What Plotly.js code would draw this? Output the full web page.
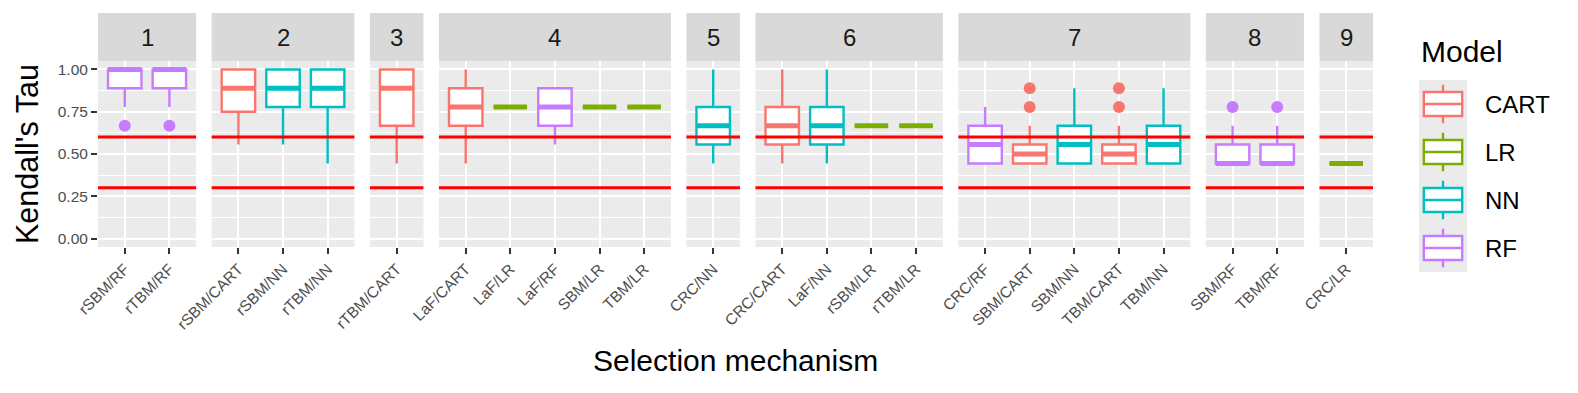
<!DOCTYPE html>
<html>
<head>
<meta charset="utf-8">
<script src="https://cdn.plot.ly/plotly-3.0.1.min.js"></script>
<style>
  html, body { margin: 0; padding: 0; background: #ffffff; }
  #chart { width: 1578px; height: 393px; }
</style>
</head>
<body>
<div id="chart"></div>
<script>
/* Kendall's Tau per selection mechanism, faceted by group (boxplots) */

// ---- data ----
const facets = [1, 1, 2, 2, 2, 3, 4, 4, 4, 4, 4, 5, 6, 6, 6, 6, 7, 7, 7, 7, 7, 8, 8, 9];
const mechanisms = [
  "rSBM/RF", "rTBM/RF",
  "rSBM/CART", "rSBM/NN", "rTBM/NN",
  "rTBM/CART",
  "LaF/CART", "LaF/LR", "LaF/RF", "SBM/LR", "TBM/LR",
  "CRC/NN",
  "CRC/CART", "LaF/NN", "rSBM/LR", "rTBM/LR",
  "CRC/RF", "SBM/CART", "SBM/NN", "TBM/CART", "TBM/NN",
  "SBM/RF", "TBM/RF",
  "CRC/LR"
];
const model = [
  "RF", "RF",
  "CART", "NN", "NN",
  "CART",
  "CART", "LR", "RF", "LR", "LR",
  "NN",
  "CART", "NN", "LR", "LR",
  "RF", "CART", "NN", "CART", "NN",
  "RF", "RF",
  "LR"
];
const lowerWhisker = [0.778, 0.778, 0.556, 0.556, 0.444, 0.444, 0.444, 0.778, 0.556, 0.778, 0.778, 0.444,
                      0.444, 0.444, 0.667, 0.667, 0.444, 0.444, 0.444, 0.444, 0.444, 0.444, 0.444, 0.444];
const q1 =           [0.889, 0.889, 0.750, 0.778, 0.778, 0.667, 0.667, 0.778, 0.667, 0.778, 0.778, 0.556,
                      0.556, 0.556, 0.667, 0.667, 0.444, 0.444, 0.444, 0.444, 0.444, 0.444, 0.444, 0.444];
const median =       [1.000, 1.000, 0.889, 0.889, 0.889, 0.889, 0.778, 0.778, 0.778, 0.778, 0.778, 0.667,
                      0.667, 0.667, 0.667, 0.667, 0.556, 0.500, 0.556, 0.500, 0.556, 0.444, 0.444, 0.444];
const q3 =           [1.000, 1.000, 1.000, 1.000, 1.000, 1.000, 0.889, 0.778, 0.889, 0.778, 0.778, 0.778,
                      0.778, 0.778, 0.667, 0.667, 0.667, 0.556, 0.667, 0.556, 0.667, 0.556, 0.556, 0.444];
const upperWhisker = [1.000, 1.000, 1.000, 1.000, 1.000, 1.000, 1.000, 0.778, 0.889, 0.778, 0.778, 1.000,
                      1.000, 1.000, 0.667, 0.667, 0.778, 0.667, 0.889, 0.667, 0.889, 0.667, 0.667, 0.444];
const outliers = [[0.667], [0.667], [], [], [], [], [], [], [], [], [], [],
                  [], [], [], [], [], [0.778, 0.889], [], [0.778, 0.889], [], [0.778], [0.778], []];

const models = ["CART", "LR", "NN", "RF"];
const modelColors = { CART: "#F8766D", LR: "#7CAE00", NN: "#00BFC4", RF: "#C77CFF" };
const thresholds = [0.3, 0.6];
const yTicks = [0, 0.25, 0.5, 0.75, 1];
const yMinor = [0.125, 0.375, 0.625, 0.875];

// ---- geometry ----
const W = 1578, H = 393;
const M = { l: 98, r: 205, t: 61, b: 146 };
const plotW = W - M.l - M.r;
const plotH = H - M.t - M.b;
const PANEL_GAP = 15.5;
const STRIP_H = 48;
const FONT = "Liberation Sans, Arial, Helvetica, sans-serif";
const px = (v) => (v - M.l) / plotW;        // pixel -> paper x
const py = (v) => (M.t + plotH - v) / plotH; // pixel -> paper y

const facetIds = [...new Set(facets)];
const counts = facetIds.map((f) => facets.filter((v) => v === f).length);
const unit = (plotW - PANEL_GAP * (counts.length - 1)) /
  counts.reduce((a, n) => a + n + 0.2, 0);

const axName = (i) => (i === 0 ? "x" : "x" + (i + 1));
const axKey = (i) => (i === 0 ? "xaxis" : "xaxis" + (i + 1));

const layout = {
  width: W,
  height: H,
  margin: M,
  paper_bgcolor: "#ffffff",
  plot_bgcolor: "#EBEBEB",
  showlegend: false,
  boxmode: "overlay",
  font: { family: FONT, color: "#4D4D4D" },
  yaxis: {
    range: [-0.05, 1.05],
    tickmode: "array",
    tickvals: yTicks,
    tickformat: ".2f",
    ticks: "outside",
    ticklen: 6,
    tickwidth: 2,
    tickcolor: "#333333",
    tickfont: { size: 15.5, color: "#4D4D4D" },
    showgrid: true,
    gridcolor: "#ffffff",
    gridwidth: 2,
    zeroline: false,
    showline: false,
    minor: { tickmode: "array", tickvals: yMinor, showgrid: true, gridcolor: "#ffffff", gridwidth: 1, ticks: "" },
    anchor: "x",
    domain: [0, 1],
  },
  shapes: [],
  annotations: [],
};

// ---- panels (one x axis per facet) ----
let start = 0;
facetIds.forEach((f, i) => {
  const n = counts[i];
  const w = (n + 0.2) * unit;
  const cats = mechanisms.filter((_, k) => facets[k] === f);
  layout[axKey(i)] = {
    domain: [start / plotW, (start + w) / plotW],
    type: "category",
    categoryorder: "array",
    categoryarray: cats,
    range: [-0.6, n - 0.4],
    anchor: "y",
    ticks: "outside",
    ticklen: 6,
    tickwidth: 2,
    tickcolor: "#333333",
    tickangle: -45,
    tickfont: { size: 15.5, color: "#4D4D4D" },
    showgrid: true,
    gridcolor: "#ffffff",
    gridwidth: 2,
    zeroline: false,
    showline: false,
  };
  start += w + PANEL_GAP;

  // strip
  layout.shapes.push({
    type: "rect", layer: "below",
    xref: axName(i) + " domain", x0: 0, x1: 1,
    yref: "paper", y0: 1, y1: 1 + STRIP_H / plotH,
    fillcolor: "#D9D9D9", line: { width: 0 },
  });
  layout.annotations.push({
    xref: axName(i) + " domain", x: 0.5,
    yref: "paper", y: 1 + STRIP_H / 2 / plotH,
    xanchor: "center", yanchor: "middle",
    text: String(f), showarrow: false,
    font: { size: 24, color: "#1A1A1A" },
  });

  // reference lines
  thresholds.forEach((t) => {
    layout.shapes.push({
      type: "line", layer: "above",
      xref: axName(i) + " domain", x0: 0, x1: 1,
      yref: "y", y0: t, y1: t,
      line: { color: "#FF0000", width: 3 },
    });
  });
});

// ---- traces ----
const traces = [];
mechanisms.forEach((m, k) => {
  const xa = axName(facetIds.indexOf(facets[k]));
  const col = modelColors[model[k]];
  traces.push({
    type: "box", orientation: "v",
    x: [m], xaxis: xa, yaxis: "y",
    q1: [q1[k]], median: [median[k]], q3: [q3[k]],
    lowerfence: [lowerWhisker[k]], upperfence: [upperWhisker[k]],
    width: 0.75, whiskerwidth: 0, boxpoints: false,
    fillcolor: "#ffffff", line: { color: col, width: 2.4 },
    hoverinfo: "skip",
  });
  // fattened median line
  traces.push({
    type: "box", orientation: "v",
    x: [m], xaxis: xa, yaxis: "y",
    q1: [median[k]], median: [median[k]], q3: [median[k]],
    lowerfence: [median[k]], upperfence: [median[k]],
    width: 0.75, whiskerwidth: 0, boxpoints: false,
    fillcolor: "rgba(0,0,0,0)", line: { color: col, width: 5 },
    hoverinfo: "skip",
  });
  if (outliers[k].length) {
    traces.push({
      type: "scatter", mode: "markers",
      x: outliers[k].map(() => m), y: outliers[k],
      xaxis: xa, yaxis: "y",
      marker: { color: col, size: 12 },
      hoverinfo: "skip",
    });
  }
});

// ---- axis titles ----
layout.annotations.push({
  xref: "paper", yref: "paper",
  x: 0.5, y: py(360), xanchor: "center", yanchor: "middle",
  text: "Selection mechanism", showarrow: false,
  font: { size: 30, color: "#000000" },
});
layout.annotations.push({
  xref: "paper", yref: "paper",
  x: px(27), y: 0.5, xanchor: "center", yanchor: "middle",
  textangle: -90,
  text: "Kendall's Tau", showarrow: false,
  font: { size: 30.5, color: "#000000" },
});

// ---- legend (ggplot style keys) ----
const LEG = { x: 1419, y: 80, key: 48, textX: 1483, titleY: 51 };
layout.annotations.push({
  xref: "paper", yref: "paper",
  x: px(LEG.x), y: py(LEG.titleY), xanchor: "left", yanchor: "middle",
  text: "Model", showarrow: false,
  font: { size: 30, color: "#000000" },
});
layout.shapes.push({
  type: "rect", xref: "paper", yref: "paper",
  x0: px(LEG.x), x1: px(LEG.x + LEG.key),
  y0: py(LEG.y), y1: py(LEG.y + LEG.key * models.length),
  fillcolor: "#EBEBEB", line: { width: 0 },
});
models.forEach((mod, i) => {
  const top = LEG.y + i * LEG.key;
  const s = LEG.key;
  const col = modelColors[mod];
  const cx = LEG.x + s / 2;
  const ln = { color: col, width: 2.4 };
  layout.shapes.push(
    { type: "line", xref: "paper", yref: "paper", x0: px(cx), x1: px(cx), y0: py(top + 0.1 * s), y1: py(top + 0.25 * s), line: ln },
    { type: "line", xref: "paper", yref: "paper", x0: px(cx), x1: px(cx), y0: py(top + 0.75 * s), y1: py(top + 0.9 * s), line: ln },
    { type: "rect", xref: "paper", yref: "paper", x0: px(LEG.x + 0.1 * s), x1: px(LEG.x + 0.9 * s), y0: py(top + 0.25 * s), y1: py(top + 0.75 * s), fillcolor: "#ffffff", line: ln },
    { type: "line", xref: "paper", yref: "paper", x0: px(LEG.x + 0.1 * s), x1: px(LEG.x + 0.9 * s), y0: py(top + 0.5 * s), y1: py(top + 0.5 * s), line: ln }
  );
  layout.annotations.push({
    xref: "paper", yref: "paper",
    x: px(LEG.textX), y: py(top + s / 2), xanchor: "left", yanchor: "middle",
    text: mod, showarrow: false,
    font: { size: 24, color: "#000000" },
  });
});

Plotly.newPlot("chart", traces, layout, { displayModeBar: false, staticPlot: true });
</script>
</body>
</html>
